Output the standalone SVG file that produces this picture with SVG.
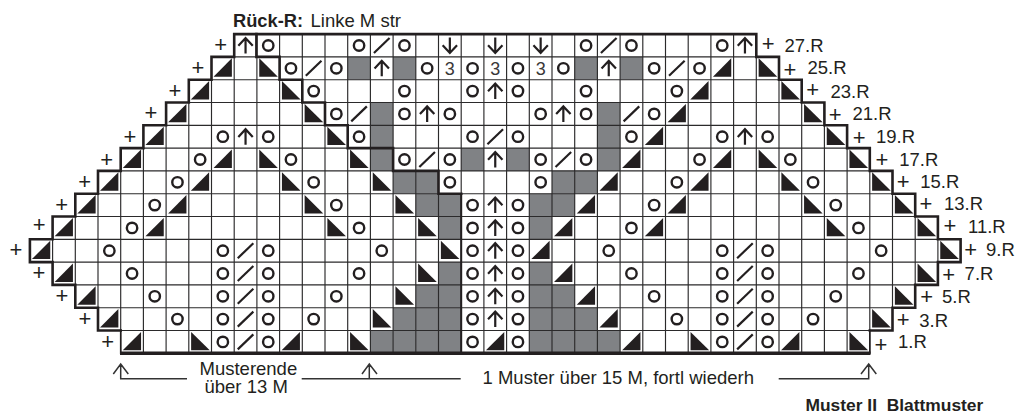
<svg xmlns="http://www.w3.org/2000/svg" width="1016" height="413" viewBox="0 0 1016 413">
<style>
text{font-family:"Liberation Sans",Arial,sans-serif;font-size:18.5px;fill:#231f20}
.b{font-weight:bold;font-size:18.3px}
.p{text-anchor:middle;font-size:22px}
.t{text-anchor:middle;font-size:18px;fill:#3a3839}
.grid{fill:none;stroke:#2b2a2b;stroke-width:1.15}
.thick{fill:none;stroke:#231f20;stroke-width:2.6;stroke-linejoin:miter;stroke-linecap:square}
.lead{fill:none;stroke:#333;stroke-width:1.5}
.o{fill:none;stroke:#231f20;stroke-width:2.4}
.s{fill:none;stroke:#231f20;stroke-width:2.2}
</style>
<defs>
<circle id="o" class="o" r="5.2"/>
<path id="f" class="s" d="M-7.8 7.5L7.8-7.5"/>
<path id="u" class="s" d="M0 8V-7.5M-7.2 0.2L0-7.5L7.2 0.2"/>
<path id="d" class="s" d="M0-8V7.5M-7.2-0.2L0 7.5L7.2-0.2"/>
<path id="l" fill="#231f20" d="M-9.3 8.4L9-10V8.4Z"/>
<path id="r" fill="#231f20" d="M-9-10L9.6 8.4H-9Z"/>
<rect id="g" fill="#808285" x="-11.35" y="-11.4" width="22.7" height="22.8"/>
</defs>
<g id="shade">
<g transform="translate(0,68.3)"><use href="#g" x="359.05"/><use href="#g" x="404.45"/><use href="#g" x="586.05"/><use href="#g" x="631.45"/></g>
<g transform="translate(0,113.9)"><use href="#g" x="381.75"/><use href="#g" x="608.75"/></g>
<g transform="translate(0,136.7)"><use href="#g" x="381.75"/><use href="#g" x="608.75"/></g>
<g transform="translate(0,159.5)"><use href="#g" x="381.75"/><use href="#g" x="472.55"/><use href="#g" x="517.95"/><use href="#g" x="608.75"/></g>
<g transform="translate(0,182.3)"><use href="#g" x="404.45"/><use href="#g" x="427.15"/><use href="#g" x="563.35"/><use href="#g" x="586.05"/></g>
<g transform="translate(0,205.1)"><use href="#g" x="427.15"/><use href="#g" x="449.85"/><use href="#g" x="540.65"/><use href="#g" x="563.35"/></g>
<g transform="translate(0,227.9)"><use href="#g" x="449.85"/><use href="#g" x="540.65"/></g>
<g transform="translate(0,273.5)"><use href="#g" x="449.85"/><use href="#g" x="540.65"/></g>
<g transform="translate(0,296.3)"><use href="#g" x="427.15"/><use href="#g" x="449.85"/><use href="#g" x="540.65"/><use href="#g" x="563.35"/></g>
<g transform="translate(0,319.1)"><use href="#g" x="404.45"/><use href="#g" x="427.15"/><use href="#g" x="449.85"/><use href="#g" x="540.65"/><use href="#g" x="563.35"/><use href="#g" x="586.05"/></g>
<g transform="translate(0,341.9)"><use href="#g" x="381.75"/><use href="#g" x="404.45"/><use href="#g" x="427.15"/><use href="#g" x="449.85"/><use href="#g" x="540.65"/><use href="#g" x="563.35"/><use href="#g" x="586.05"/><use href="#g" x="608.75"/></g>
</g>
<g id="connectors">
<path id="grid" class="grid" d="M98 330.5H892.5M75.3 307.7H915.2M52.6 284.9H937.9M29.9 262.1H960.6M29.9 239.3H960.6M52.6 216.5H937.9M75.3 193.7H915.2M98 170.9H892.5M120.7 148.1H869.8M143.4 125.3H847.1M166.1 102.5H824.4M188.8 79.7H801.7M211.5 56.9H779
M52.6 262.1V239.3M75.3 284.9V216.5M98 307.7V193.7M120.7 330.5V170.9M143.4 353.3V148.1M166.1 353.3V125.3M188.8 353.3V102.5M211.5 353.3V79.7M234.2 353.3V56.9
M256.9 353.3V34.1M279.6 353.3V34.1M302.3 353.3V34.1M325 353.3V34.1M347.7 353.3V34.1M370.4 353.3V34.1M393.1 353.3V34.1M415.8 353.3V34.1M438.5 353.3V34.1M461.2 353.3V34.1M483.9 353.3V34.1M506.6 353.3V34.1M529.3 353.3V34.1M552 353.3V34.1M574.7 353.3V34.1M597.4 353.3V34.1M620.1 353.3V34.1M642.8 353.3V34.1M665.5 353.3V34.1M688.2 353.3V34.1M710.9 353.3V34.1M733.6 353.3V34.1
M756.3 353.3V56.9M779 353.3V79.7M801.7 353.3V102.5M824.4 353.3V125.3M847.1 353.3V148.1M869.8 330.5V170.9M892.5 307.7V193.7M915.2 284.9V216.5M937.9 262.1V239.3M120.7 353.3V330.5M869.8 353.3V330.5"/>
</g>
<g id="r1" transform="translate(0,341.9)"><use href="#l" x="132.05"/><use href="#r" x="200.15"/><use href="#o" x="222.85"/><use href="#f" x="245.55"/><use href="#o" x="268.25"/><use href="#l" x="290.95"/><use href="#r" x="359.05"/><use href="#o" x="472.55"/><use href="#l" x="495.25"/><use href="#o" x="517.95"/><use href="#l" x="631.45"/><use href="#r" x="699.55"/><use href="#o" x="722.25"/><use href="#f" x="744.95"/><use href="#o" x="767.65"/><use href="#l" x="790.35"/><use href="#r" x="858.45"/></g>
<g id="r3" transform="translate(0,319.1)"><use href="#l" x="109.35"/><use href="#o" x="177.45"/><use href="#o" x="222.85"/><use href="#f" x="245.55"/><use href="#o" x="268.25"/><use href="#o" x="313.65"/><use href="#r" x="381.75"/><use href="#o" x="472.55"/><use href="#u" x="495.25"/><use href="#o" x="517.95"/><use href="#l" x="608.75"/><use href="#o" x="676.85"/><use href="#o" x="722.25"/><use href="#f" x="744.95"/><use href="#o" x="767.65"/><use href="#o" x="813.05"/><use href="#r" x="881.15"/></g>
<g id="r5" transform="translate(0,296.3)"><use href="#l" x="86.65"/><use href="#o" x="154.75"/><use href="#o" x="222.85"/><use href="#f" x="245.55"/><use href="#o" x="268.25"/><use href="#o" x="336.35"/><use href="#r" x="404.45"/><use href="#o" x="472.55"/><use href="#u" x="495.25"/><use href="#o" x="517.95"/><use href="#l" x="586.05"/><use href="#o" x="654.15"/><use href="#o" x="722.25"/><use href="#f" x="744.95"/><use href="#o" x="767.65"/><use href="#o" x="835.75"/><use href="#r" x="903.85"/></g>
<g id="r7" transform="translate(0,273.5)"><use href="#l" x="63.95"/><use href="#o" x="132.05"/><use href="#o" x="222.85"/><use href="#f" x="245.55"/><use href="#o" x="268.25"/><use href="#o" x="359.05"/><use href="#r" x="427.15"/><use href="#o" x="472.55"/><use href="#u" x="495.25"/><use href="#o" x="517.95"/><use href="#l" x="563.35"/><use href="#o" x="631.45"/><use href="#o" x="722.25"/><use href="#f" x="744.95"/><use href="#o" x="767.65"/><use href="#o" x="858.45"/><use href="#r" x="926.55"/></g>
<g id="r9" transform="translate(0,250.7)"><use href="#l" x="41.25"/><use href="#o" x="109.35"/><use href="#o" x="222.85"/><use href="#f" x="245.55"/><use href="#o" x="268.25"/><use href="#o" x="381.75"/><use href="#r" x="449.85"/><use href="#o" x="472.55"/><use href="#u" x="495.25"/><use href="#o" x="517.95"/><use href="#l" x="540.65"/><use href="#o" x="608.75"/><use href="#o" x="722.25"/><use href="#f" x="744.95"/><use href="#o" x="767.65"/><use href="#o" x="881.15"/><use href="#r" x="949.25"/></g>
<g id="r11" transform="translate(0,227.9)"><use href="#l" x="63.95"/><use href="#o" x="132.05"/><use href="#l" x="154.75"/><use href="#r" x="336.35"/><use href="#o" x="359.05"/><use href="#r" x="427.15"/><use href="#o" x="472.55"/><use href="#u" x="495.25"/><use href="#o" x="517.95"/><use href="#l" x="563.35"/><use href="#o" x="631.45"/><use href="#l" x="654.15"/><use href="#r" x="835.75"/><use href="#o" x="858.45"/><use href="#r" x="926.55"/></g>
<g id="r13" transform="translate(0,205.1)"><use href="#l" x="86.65"/><use href="#o" x="154.75"/><use href="#l" x="177.45"/><use href="#r" x="313.65"/><use href="#o" x="336.35"/><use href="#r" x="404.45"/><use href="#o" x="472.55"/><use href="#u" x="495.25"/><use href="#o" x="517.95"/><use href="#l" x="586.05"/><use href="#o" x="654.15"/><use href="#l" x="676.85"/><use href="#r" x="813.05"/><use href="#o" x="835.75"/><use href="#r" x="903.85"/></g>
<g id="r15" transform="translate(0,182.3)"><use href="#l" x="109.35"/><use href="#o" x="177.45"/><use href="#l" x="200.15"/><use href="#r" x="290.95"/><use href="#o" x="313.65"/><use href="#r" x="381.75"/><use href="#o" x="449.85"/><use href="#o" x="540.65"/><use href="#l" x="608.75"/><use href="#o" x="676.85"/><use href="#l" x="699.55"/><use href="#r" x="790.35"/><use href="#o" x="813.05"/><use href="#r" x="881.15"/></g>
<g id="r17" transform="translate(0,159.5)"><use href="#l" x="132.05"/><use href="#o" x="200.15"/><use href="#l" x="222.85"/><use href="#r" x="268.25"/><use href="#o" x="290.95"/><use href="#r" x="359.05"/><use href="#o" x="404.45"/><use href="#f" x="427.15"/><use href="#o" x="449.85"/><use href="#u" x="495.25"/><use href="#o" x="540.65"/><use href="#f" x="563.35"/><use href="#o" x="586.05"/><use href="#l" x="631.45"/><use href="#o" x="699.55"/><use href="#l" x="722.25"/><use href="#r" x="767.65"/><use href="#o" x="790.35"/><use href="#r" x="858.45"/></g>
<g id="r19" transform="translate(0,136.7)"><use href="#l" x="154.75"/><use href="#o" x="222.85"/><use href="#u" x="245.55"/><use href="#o" x="268.25"/><use href="#r" x="336.35"/><use href="#o" x="359.05"/><use href="#o" x="472.55"/><use href="#f" x="495.25"/><use href="#o" x="517.95"/><use href="#o" x="631.45"/><use href="#l" x="654.15"/><use href="#o" x="722.25"/><use href="#u" x="744.95"/><use href="#o" x="767.65"/><use href="#r" x="835.75"/></g>
<g id="r21" transform="translate(0,113.9)"><use href="#l" x="177.45"/><use href="#r" x="313.65"/><use href="#o" x="336.35"/><use href="#f" x="359.05"/><use href="#o" x="404.45"/><use href="#u" x="427.15"/><use href="#o" x="449.85"/><use href="#o" x="540.65"/><use href="#u" x="563.35"/><use href="#o" x="586.05"/><use href="#f" x="631.45"/><use href="#o" x="654.15"/><use href="#l" x="676.85"/><use href="#r" x="813.05"/></g>
<g id="r23" transform="translate(0,91.1)"><use href="#l" x="200.15"/><use href="#r" x="290.95"/><use href="#o" x="313.65"/><use href="#o" x="404.45"/><use href="#o" x="472.55"/><use href="#u" x="495.25"/><use href="#o" x="517.95"/><use href="#o" x="586.05"/><use href="#o" x="676.85"/><use href="#l" x="699.55"/><use href="#r" x="790.35"/></g>
<g id="r25" transform="translate(0,68.3)"><use href="#l" x="222.85"/><use href="#r" x="268.25"/><use href="#o" x="290.95"/><use href="#f" x="313.65"/><use href="#o" x="336.35"/><use href="#u" x="381.75"/><use href="#o" x="427.15"/><text class="t" x="449.85" y="6.5">3</text><use href="#o" x="472.55"/><text class="t" x="495.25" y="6.5">3</text><use href="#o" x="517.95"/><text class="t" x="540.65" y="6.5">3</text><use href="#o" x="563.35"/><use href="#u" x="608.75"/><use href="#o" x="654.15"/><use href="#f" x="676.85"/><use href="#o" x="699.55"/><use href="#l" x="722.25"/><use href="#r" x="767.65"/></g>
<g id="r27" transform="translate(0,45.5)"><use href="#u" x="245.55"/><use href="#o" x="268.25"/><use href="#o" x="359.05"/><use href="#f" x="381.75"/><use href="#o" x="404.45"/><use href="#d" x="449.85"/><use href="#d" x="495.25"/><use href="#d" x="540.65"/><use href="#o" x="586.05"/><use href="#f" x="608.75"/><use href="#o" x="631.45"/><use href="#o" x="722.25"/><use href="#u" x="744.95"/></g>
<g id="outline">
<path class="thick" d="M869.8 330.5H892.5V307.7H915.2V284.9H937.9V262.1H960.6V239.3H937.9V216.5H915.2V193.7H892.5V170.9H869.8V148.1H847.1V125.3H824.4V102.5H801.7V79.7H779V56.9H756.3V34.1H234.2V56.9H211.5V79.7H188.8V102.5H166.1V125.3H143.4V148.1H120.7V170.9H98V193.7H75.3V216.5H52.6V239.3H29.9V262.1H52.6V284.9H75.3V307.7H98V330.5H120.7"/>
<path class="thick" d="M120.7 353.3V330.5M869.8 353.3V330.5" style="stroke-width:1.6"/>
<path d="M120 353.3H870.5" fill="none" stroke="#231f20" stroke-width="3.4"/>
<path class="thick" d="M256.4 34.1V56.9H279.6V79.7H302.3V102.5H325V125.3H347.7V148.1H393.1V170.9H438.5V193.7H461.2" />
<path d="M461.2 193.7V353.3" fill="none" stroke="#231f20" stroke-width="2"/>
</g>
<g id="leaders">
<path class="lead" d="M187 378.7H120.7V364M113.3 374L120.7 364L128.3 374M301.7 378.7H460.7M369.3 378.7V364M362 374L369.3 364L377 374M778.7 378.7H868.7V364M861 374L868.7 364L876.3 374"/>
</g>
<g id="labels">
<text class="b" x="233" y="26.7">Rück-R:</text>
<text x="310.5" y="26.7">Linke M str</text>
<text x="199.5" y="375">Musterende</text>
<text x="204.5" y="392.7">über 13 M</text>
<text x="482.5" y="384">1 Muster über 15 M, fortl wiederh</text>
<text class="b" x="805.5" y="410.7" style="font-size:17.4px;white-space:pre">Muster II  Blattmuster</text>
<text class="p" x="220.7" y="51.8">+</text><text class="p" x="198" y="74.8">+</text><text class="p" x="175" y="98">+</text><text class="p" x="151" y="120">+</text><text class="p" x="130" y="143.8">+</text><text class="p" x="106.7" y="166.5">+</text><text class="p" x="84.7" y="188.5">+</text><text class="p" x="61.7" y="211.5">+</text><text class="p" x="39.3" y="232.3">+</text><text class="p" x="16" y="257.3">+</text><text class="p" x="39" y="280">+</text><text class="p" x="62" y="303">+</text><text class="p" x="85" y="326.3">+</text><text class="p" x="107.7" y="349">+</text>
<text class="p" x="768.3" y="51.3">+</text><text x="784.5" y="51.7">27.R</text>
<text class="p" x="790" y="76.6">+</text><text x="807.5" y="74">25.R</text>
<text class="p" x="812.7" y="96.6">+</text><text x="830.5" y="97.7">23.R</text>
<text class="p" x="835.3" y="122">+</text><text x="852.5" y="120">21.R</text>
<text class="p" x="859.3" y="144.6">+</text><text x="876" y="143.3">19.R</text>
<text class="p" x="882" y="166.6">+</text><text x="899.3" y="165.7">17.R</text>
<text class="p" x="903.3" y="189">+</text><text x="920.3" y="188.3">15.R</text>
<text class="p" x="926" y="211.3">+</text><text x="944" y="210">13.R</text>
<text class="p" x="950" y="233.3">+</text><text x="968" y="232.7">11.R</text>
<text class="p" x="970.7" y="257.3">+</text><text x="986" y="256">9.R</text>
<text class="p" x="948.7" y="282.3">+</text><text x="964.6" y="280">7.R</text>
<text class="p" x="926.7" y="304">+</text><text x="942" y="303.3">5.R</text>
<text class="p" x="903.3" y="327.3">+</text><text x="919.3" y="326.7">3.R</text>
<text class="p" x="881" y="351.6">+</text><text x="898" y="347.7">1.R</text>
</g>
</svg>
